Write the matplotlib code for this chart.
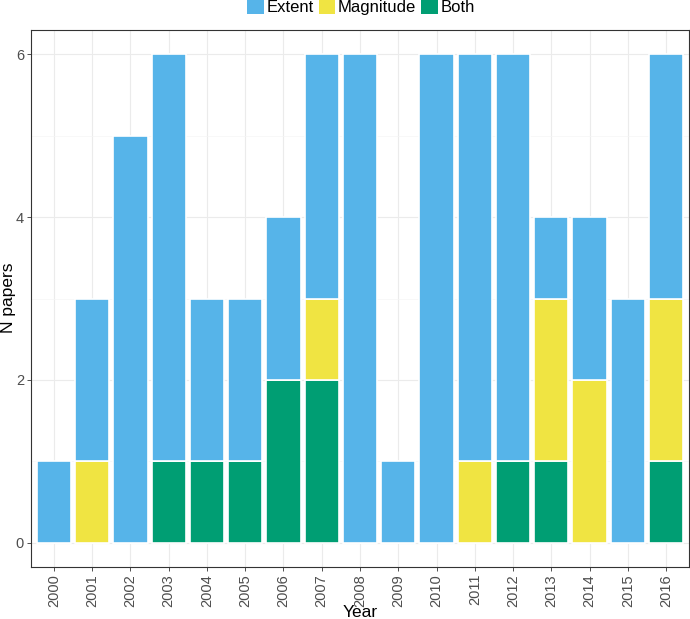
import matplotlib
matplotlib.use("Agg")
import matplotlib.pyplot as plt
from matplotlib.patches import Patch
import numpy as np

plt.rcParams['font.family'] = ['Liberation Sans', 'DejaVu Sans']

years = [str(y) for y in range(2000, 2017)]
both = [0, 0, 0, 1, 1, 1, 2, 2, 0, 0, 0, 0, 1, 1, 0, 0, 1]
magnitude = [0, 1, 0, 0, 0, 0, 0, 1, 0, 0, 0, 1, 0, 2, 2, 0, 2]
extent = [1, 2, 5, 5, 2, 2, 2, 3, 6, 1, 6, 5, 5, 1, 2, 3, 3]

c_ext = "#56B4E9"
c_mag = "#F0E442"
c_both = "#009E73"

W, H = 690, 619
fig = plt.figure(figsize=(W/100, H/100), dpi=100)
ax = fig.add_axes([31/W, (H-567)/H, (689-31)/W, (567-30)/H])

x = np.arange(len(years))
both_a = np.array(both)
mag_a = np.array(magnitude)
ext_a = np.array(extent)

kw = dict(width=0.9, edgecolor="white", linewidth=1.2, zorder=3)
ax.bar(x, both_a, color=c_both, **kw)
ax.bar(x, mag_a, bottom=both_a, color=c_mag, **kw)
ax.bar(x, ext_a, bottom=both_a + mag_a, color=c_ext, **kw)

ax.set_xlim(-0.6, len(years) - 0.4)
ax.set_ylim(-0.3, 6.3)
ax.set_xticks(x)
ax.set_xticklabels(years, rotation=90, fontsize=10.5, color="#4d4d4d")
ax.set_yticks([0, 2, 4, 6])
ax.set_yticklabels(["0", "2", "4", "6"], fontsize=10.5, color="#4d4d4d")
ax.set_yticks([1, 3, 5], minor=True)
ax.grid(True, which="major", color="#ebebeb", linewidth=0.8, zorder=0)
ax.grid(True, which="minor", axis="y", color="#f5f5f5", linewidth=0.5, zorder=0)
ax.tick_params(axis="both", which="major", length=3, color="#333333", width=0.6, pad=2)
ax.tick_params(axis="y", which="minor", length=0)
for s in ax.spines.values():
    s.set_color("#333333")
    s.set_linewidth(0.8)

fig.text(360/W, 1 - 617/H, "Year", fontsize=12.5, ha="center", va="baseline")
fig.text(9/W, 1 - 298/H, "N papers", fontsize=12.5, ha="center", va="center", rotation=90)

handles = [Patch(facecolor=c_ext, label="Extent"),
           Patch(facecolor=c_mag, label="Magnitude"),
           Patch(facecolor=c_both, label="Both")]
fig.legend(handles=handles, loc="center", bbox_to_anchor=(361/W, 1 - 7/H), ncol=3,
           frameon=False, fontsize=12, handlelength=1.0, handleheight=1.0,
           handletextpad=0.15, columnspacing=0.3, borderaxespad=0, borderpad=0)

fig.savefig("out.png", dpi=100)
